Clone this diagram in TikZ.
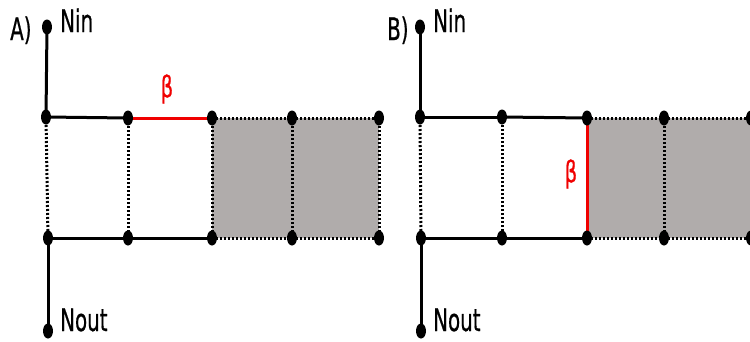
\documentclass[tikz,border=0pt]{standalone}
\usepackage{fontspec}
\setmainfont{DejaVu Sans}
\newfontfamily\lblfont{DejaVu Sans}[FakeBold=0.8]
\usetikzlibrary{shapes.geometric}
\definecolor{cellgray}{RGB}{176,172,171}
\definecolor{betared}{RGB}{240,0,0}
\tikzset{
  dot/.style={ellipse,fill=black,draw=none,minimum width=10pt,minimum height=15pt,inner sep=0pt},
  wire/.style={line width=3pt,black},
  dotted wire/.style={line width=3pt,black,dash pattern=on 2pt off 2pt},
  red wire/.style={line width=3pt,betared},
  lbl/.style={inner sep=0pt,anchor=base west,font=\lblfont\fontsize{31}{31}\selectfont},
  beta/.style={inner sep=0pt,text=betared,font=\lblfont\fontsize{30}{30}\selectfont}
}
\newcommand{\narrow}[1]{\scalebox{0.64}[1]{#1}}
\begin{document}
\begin{tikzpicture}[x=1pt,y=-1pt]
\useasboundingbox (0,0) rectangle (750,341);
% ---------- panel A ----------
\coordinate (ain) at (47,27);
\coordinate (aout) at (48,331);
\coordinate (at1) at (46,117);
\coordinate (at2) at (128,118);
\coordinate (at3) at (212,118);
\coordinate (at4) at (292,118);
\coordinate (at5) at (379,118);
\coordinate (ab1) at (48,238);
\coordinate (ab2) at (128,238);
\coordinate (ab3) at (212,238);
\coordinate (ab4) at (292,238);
\coordinate (ab5) at (379,238);
\fill[cellgray] (at3) rectangle (ab5);
\draw[wire] (ain) -- (at1);
\draw[wire] (ab1) -- (aout);
\draw[wire] (at1) -- (at2);
\draw[red wire] (at2) -- (at3);
\draw[dotted wire] (at3) -- (at4);
\draw[dotted wire] (at4) -- (at5);
\draw[wire] (ab1) -- (ab2);
\draw[wire] (ab2) -- (ab3);
\draw[dotted wire] (ab3) -- (ab4);
\draw[dotted wire] (ab4) -- (ab5);
\foreach \i in {1,...,5}{\draw[dotted wire] (at\i) -- (ab\i);}
\foreach \n in {ain,aout,at1,at2,at3,at4,at5,ab1,ab2,ab3,ab4,ab5}{\node[dot] (d\n) at (\n) {};}
\node[lbl] (alabel) at (10,40) {\narrow{A)}};
\node[lbl] (anin) at (60,32) {\narrow{Nin}};
\node[lbl] (anout) at (60,331) {\narrow{Nout}};
\node[beta] (abeta) at (167,89) {\narrow{β}};
% ---------- panel B ----------
\coordinate (bin) at (420,27);
\coordinate (bout) at (421,331);
\coordinate (bt1) at (420,117);
\coordinate (bt2) at (502,117);
\coordinate (bt3) at (587,118);
\coordinate (bt4) at (664,118);
\coordinate (bt5) at (751,118);
\coordinate (bb1) at (421,238);
\coordinate (bb2) at (502,238);
\coordinate (bb3) at (587,238);
\coordinate (bb4) at (664,238);
\coordinate (bb5) at (751,238);
\fill[cellgray] (bt3) rectangle (bb5);
\draw[wire] (bin) -- (bt1);
\draw[wire] (bb1) -- (bout);
\draw[wire] (bt1) -- (bt2);
\draw[wire] (bt2) -- (bt3);
\draw[dotted wire] (bt3) -- (bt4);
\draw[dotted wire] (bt4) -- (bt5);
\draw[wire] (bb1) -- (bb2);
\draw[wire] (bb2) -- (bb3);
\draw[dotted wire] (bb3) -- (bb4);
\draw[dotted wire] (bb4) -- (bb5);
\draw[dotted wire] (bt1) -- (bb1);
\draw[dotted wire] (bt2) -- (bb2);
\draw[red wire] (bt3) -- (bb3);
\draw[dotted wire] (bt4) -- (bb4);
\draw[dotted wire] (bt5) -- (bb5);
\foreach \n in {bin,bout,bt1,bt2,bt3,bt4,bt5,bb1,bb2,bb3,bb4,bb5}{\node[dot] (d\n) at (\n) {};}
\node[lbl] (blabel) at (387,40) {\narrow{B)}};
\node[lbl] (bnin) at (433,32) {\narrow{Nin}};
\node[lbl] (bnout) at (433,331) {\narrow{Nout}};
\node[beta] (bbeta) at (571,174) {\narrow{β}};
\end{tikzpicture}
\end{document}
